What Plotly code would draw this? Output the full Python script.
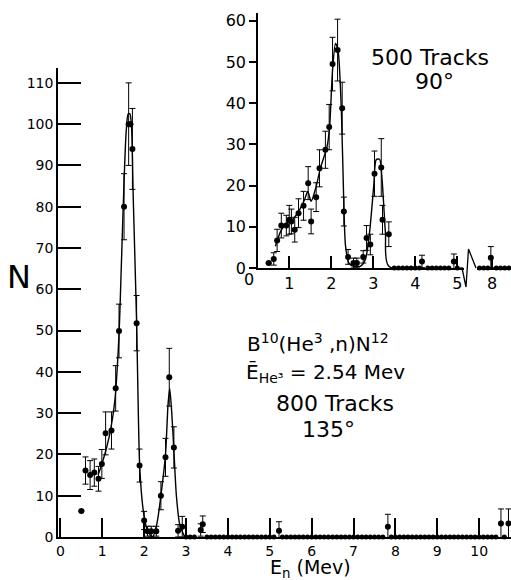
import plotly.graph_objects as go

W, H = 511, 580
FONT = "DejaVu Sans"

# ---------------- main spectrum (135 deg, 800 tracks) ----------------
main_x = [0.50, 0.60, 0.71, 0.81, 0.91, 0.99, 1.08, 1.22, 1.32, 1.40, 1.52,
          1.63, 1.67, 1.72, 1.82, 1.89, 2.00, 2.08, 2.17, 2.29, 2.40,
          2.51, 2.60, 2.71, 2.81, 2.91, 3.35, 3.40, 5.22, 7.82, 10.52, 10.70]
main_y = [6.3, 16.1, 15.0, 15.6, 14.1, 17.7, 25.1, 25.8, 36.0, 49.9, 80.0,
          100.0, 100.0, 94.0, 51.8, 17.3, 4.0, 1.4, 1.4, 1.4, 10.0,
          19.3, 38.7, 21.7, 1.5, 2.5, 1.7, 3.1, 1.5, 2.5, 3.3, 3.3]
main_err = [0, 3.3, 3.5, 3.3, 3.0, 3.5, 5.2, 4.5, 5.5, 6.5, 8.0,
            10.0, 0, 9.8, 6.7, 4.0, 2.2, 1.2, 1.2, 1.2, 3.4,
            4.6, 7.0, 5.0, 1.5, 2.5, 1.5, 2.0, 2.2, 3.0, 3.5, 3.5]
main_zero_x = [3.0, 3.1, 3.2, 3.5, 3.6, 3.7, 3.8, 3.9, 4.0, 4.1, 4.2, 4.3, 4.4,
               4.5, 4.6, 4.7, 4.8, 4.9, 5.0, 5.1, 5.3, 5.4, 5.5, 5.6, 5.7, 5.8,
               5.9, 6.0, 6.1, 6.2, 6.3, 6.4, 6.5, 6.6, 6.7, 6.8, 6.9, 7.0, 7.1,
               7.2, 7.3, 7.4, 7.5, 7.6, 7.7, 7.9, 8.0, 8.1, 8.2, 8.3, 8.4, 8.5,
               8.6, 8.7, 8.8, 8.9, 9.0, 9.1, 9.2, 9.3, 9.4, 9.5, 9.6, 9.7, 9.8,
               9.9, 10.0, 10.1, 10.2, 10.3, 10.4, 10.6]
main_zero_y = [0] * len(main_zero_x)
main_curve_x = [0.90, 1.00, 1.10, 1.20, 1.30, 1.40, 1.45, 1.52, 1.57, 1.62, 1.66,
                1.70, 1.74, 1.82, 1.89, 1.95, 2.00, 2.08, 2.20, 2.30, 2.40, 2.51,
                2.57, 2.61, 2.66, 2.71, 2.77, 2.85, 2.97]
main_curve_y = [15, 18, 21.5, 26, 33, 49, 64, 86, 98, 102.5, 102.5,
                99, 82, 52, 18, 9, 5, 1.5, 0, 3, 10, 20,
                32, 36, 30, 21, 10, 3, 0]
main_yticks = [0, 10, 20, 30, 40, 50, 60, 70, 80, 90, 100, 110]
main_xticks = [0, 1, 2, 3, 4, 5, 6, 7, 8, 9, 10]

# ---------------- inset spectrum (90 deg, 500 tracks) ----------------
inset_x = [0.51, 0.63, 0.71, 0.81, 0.93, 1.00, 1.05, 1.13, 1.22, 1.34,
           1.45, 1.52, 1.64, 1.72, 1.86, 1.95, 2.03, 2.15, 2.26, 2.30,
           2.40, 2.53, 2.61, 2.76, 2.84, 2.93, 3.03, 3.19, 3.22, 3.37,
           4.16, 4.92, 7.97]
inset_y = [1.2, 2.2, 6.7, 10.3, 10.3, 11.7, 11.3, 9.3, 13.3, 15.1,
           20.6, 11.3, 17.2, 24.2, 28.7, 34.2, 49.5, 52.9, 38.8, 13.7,
           2.7, 1.2, 1.2, 2.7, 7.3, 5.7, 22.9, 24.4, 11.7, 8.2,
           1.6, 1.6, 2.5]
inset_err = [0, 1.5, 2.7, 3.0, 2.5, 3.5, 3.0, 3.0, 3.5, 3.5,
             4.0, 3.0, 3.5, 4.5, 4.5, 5.5, 6.5, 7.5, 6.3, 3.5,
             1.8, 1.2, 1.2, 1.5, 3.0, 2.5, 5.5, 7.0, 3.5, 3.0,
             1.5, 1.8, 2.7]
inset_zero_x = [3.5, 3.6, 3.7, 3.8, 3.9, 4.0, 4.1, 4.3, 4.4, 4.5, 4.6, 4.7,
                4.8, 5.0, 7.7, 7.8, 7.9, 8.1, 8.2, 8.3, 8.4]
inset_zero_y = [0] * len(inset_zero_x)
inset_curve_x = [0.67, 0.80, 0.95, 1.05, 1.22, 1.36, 1.44, 1.52, 1.64, 1.74,
                 1.90, 1.96, 2.03, 2.10, 2.16, 2.24, 2.30, 2.34, 2.42, 2.53,
                 2.69, 2.81, 2.91, 3.01, 3.07, 3.15, 3.21, 3.29, 3.37, 5.14]
inset_curve_y = [5.3, 9.0, 11.0, 11.5, 13.7, 16.5, 18.6, 16.2, 19.8, 24.2,
                 29.5, 34.3, 48.0, 54.5, 52.9, 38.4, 15.0, 5.3, 1.2, 0.4,
                 0.4, 2.0, 8.5, 19.8, 26.3, 26.4, 21.4, 8.5, 0.4, 0.0]
inset_tail_x = [7.59, 8.45]
inset_tail_y = [0, 0]
inset_xticks = [1, 2, 3, 4, 5, 8]
inset_yticks = [0, 10, 20, 30, 40, 50, 60]

BREAK_SHIFT = 2.17   # broken axis: values beyond the break are drawn shifted left

# axis geometry (pixel boxes) and ranges
MAIN_BOX = (58, 511, 68, 537)      # left, right, top, bottom
INS_BOX = (258, 511, 13, 268)
MAIN_XR = [-0.057, 10.76]
MAIN_YR = [0, 113.6]
INS_XR = [0.255, 6.28]
INS_YR = [0, 61.9]


def brk(xs):
    return [x - BREAK_SHIFT if x > 6 else x for x in xs]


def px(x):
    return x / W


def py(y):
    return 1 - y / H


fig = go.Figure()

mk = dict(color="black", size=6)
eb = dict(type="data", color="black", thickness=1, width=3)

# main
fig.add_trace(go.Scatter(x=main_curve_x, y=main_curve_y, mode="lines",
                         line=dict(color="black", width=1.4, shape="spline", smoothing=0.7),
                         xaxis="x", yaxis="y", hoverinfo="skip"))
fig.add_trace(go.Scatter(x=main_zero_x, y=main_zero_y, mode="markers",
                         marker=dict(color="black", size=5), cliponaxis=False,
                         xaxis="x", yaxis="y"))
fig.add_trace(go.Scatter(x=main_x, y=main_y, mode="markers", marker=mk,
                         error_y=dict(array=main_err, **eb), cliponaxis=False,
                         xaxis="x", yaxis="y"))

# inset
fig.add_trace(go.Scatter(x=brk(inset_curve_x), y=inset_curve_y, mode="lines",
                         line=dict(color="black", width=1.4, shape="spline", smoothing=0.7),
                         xaxis="x2", yaxis="y2", hoverinfo="skip"))
fig.add_trace(go.Scatter(x=brk(inset_tail_x), y=inset_tail_y, mode="lines",
                         line=dict(color="black", width=1.4),
                         xaxis="x2", yaxis="y2"))
fig.add_trace(go.Scatter(x=brk(inset_zero_x), y=inset_zero_y, mode="markers",
                         marker=dict(color="black", size=5), cliponaxis=False,
                         xaxis="x2", yaxis="y2"))
fig.add_trace(go.Scatter(x=brk(inset_x), y=inset_y, mode="markers", marker=mk,
                         error_y=dict(array=inset_err, **eb), cliponaxis=False,
                         xaxis="x2", yaxis="y2"))


def axis(domain, rng, anchor, tickvals, size, ticks, ticklen, ticktext=None):
    d = dict(domain=domain, range=rng, anchor=anchor, showgrid=False, zeroline=False,
             showline=True, linecolor="black", linewidth=1.5, mirror=False,
             tickmode="array", tickvals=tickvals, ticks=ticks, ticklen=ticklen,
             tickwidth=2, tickcolor="black", showticklabels=True,
             tickfont=dict(family=FONT, size=size, color="black"), automargin=False)
    if ticktext is not None:
        d["ticktext"] = ticktext
    return d


fig.update_layout(
    template="none",
    width=W, height=H, margin=dict(l=0, r=0, t=0, b=0, pad=0),
    paper_bgcolor="white", plot_bgcolor="white", showlegend=False,
    xaxis=axis([px(MAIN_BOX[0]), 1], MAIN_XR, "y", main_xticks, 14, "inside", 19),
    yaxis=axis([py(MAIN_BOX[3]), py(MAIN_BOX[2])], MAIN_YR, "x", main_yticks, 14, "inside", 23),
    xaxis2=axis([px(INS_BOX[0]), 1], INS_XR, "y2", brk(inset_xticks), 16, "inside", 12,
                ticktext=[str(t) for t in inset_xticks]),
    yaxis2=axis([py(INS_BOX[3]), py(INS_BOX[2])], INS_YR, "x2", inset_yticks, 16, "outside", 7),
)

# axis-break symbol on the inset x axis
fig.add_shape(type="rect", xref="paper", yref="paper",
              x0=px(464), x1=px(477), y0=py(270), y1=py(266),
              fillcolor="white", line=dict(width=0), layer="above")
fig.add_shape(type="path", xref="paper", yref="paper", layer="above",
              path=f"M {px(462)} {py(268)} L {px(466)} {py(287)} L {px(468.5)} {py(249)} L {px(476)} {py(268)}",
              line=dict(color="black", width=1.3))

ann = []


def text(x, y, s, size, **kw):
    ann.append(dict(x=px(x), y=py(y), xref="paper", yref="paper", text=s, showarrow=False,
                    font=dict(family=FONT, size=size, color="black"),
                    xanchor="center", yanchor="middle", **kw))


text(249, 279, "0", 16)
text(19, 277, "N", 32)
text(310, 568, "E<sub>n</sub> (Mev)", 19)
text(318, 343, "B<sup>10</sup>(He<sup>3</sup> ,n)N<sup>12</sup>", 20)
text(325, 373, "Ē<sub>He³</sub> = 2.54 Mev", 20)
text(335, 404, "800 Tracks", 22)
text(328, 429, "135°", 22)
text(430, 58, "500 Tracks", 22)
text(434, 81, "90°", 22)
fig.update_layout(annotations=ann)

fig.write_html("out.html")
